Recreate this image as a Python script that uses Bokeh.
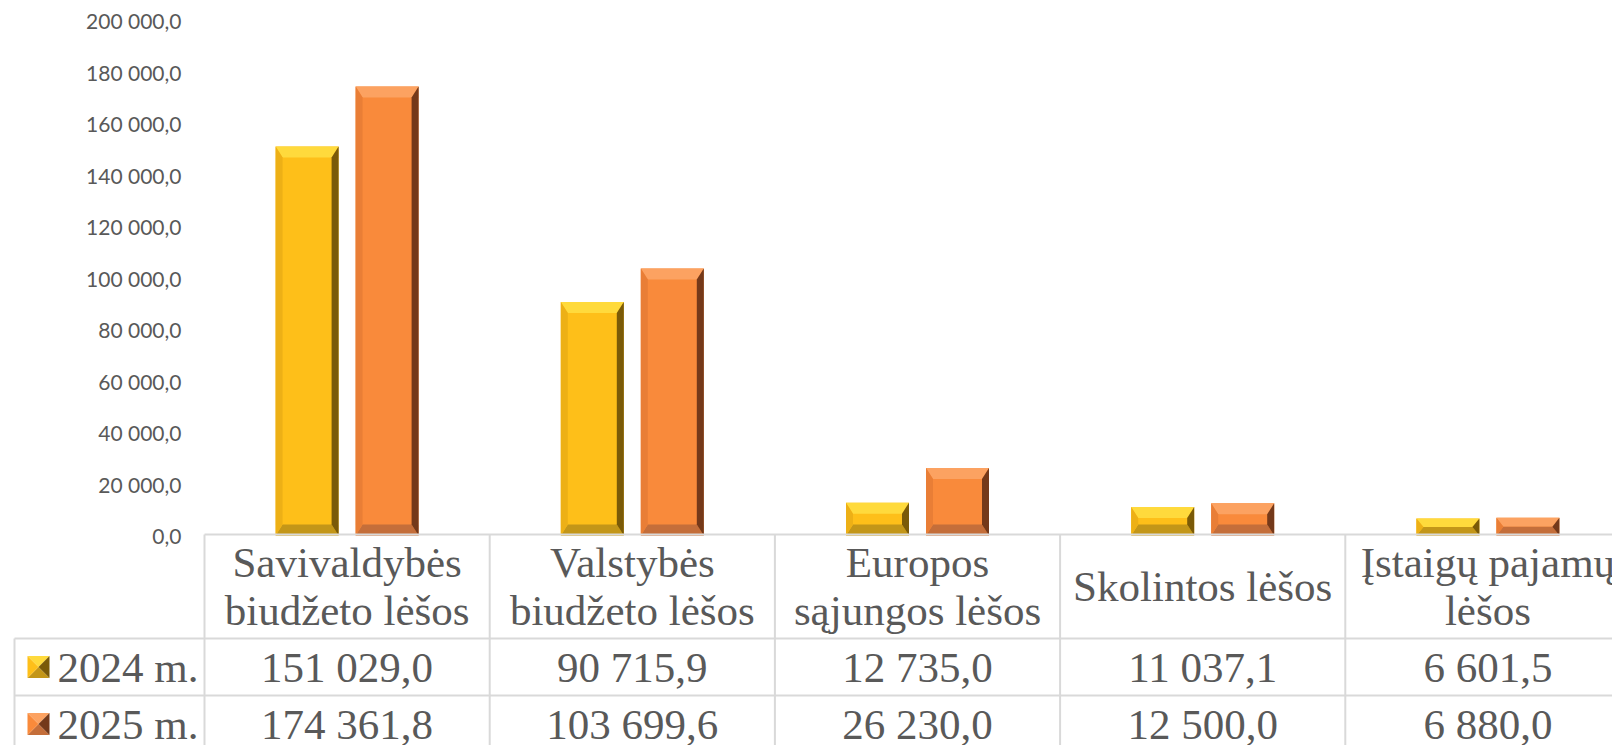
from bokeh.plotting import figure
from bokeh.models import Range1d, FixedTicker
from bokeh.embed import file_html
from bokeh.resources import INLINE
from bokeh.core.properties import value

# ---------------- data ----------------
categories = ["Savivaldybės\nbiudžeto lėšos", "Valstybės\nbiudžeto lėšos",
              "Europos\nsąjungos lėšos", "Skolintos lėšos", "Įstaigų pajamų\nlėšos"]
series_names = ["2024 m.", "2025 m."]
values_2024 = [151029.0, 90715.9, 12735.0, 11037.1, 6601.5]
values_2025 = [174361.8, 103699.6, 26230.0, 12500.0, 6880.0]
y_ticks = [0, 20000, 40000, 60000, 80000, 100000, 120000, 140000, 160000, 180000, 200000]
y_tick_labels = ["0,0", "20 000,0", "40 000,0", "60 000,0", "80 000,0", "100 000,0",
                 "120 000,0", "140 000,0", "160 000,0", "180 000,0", "200 000,0"]

# ---------------- style / layout ----------------
W, H = 1612, 745
CAT_PX = 285.2            # px per category
CAT0_FIG = 204            # fig x of category 0 left edge
ZERO_FIG = 535            # fig y of value 0
TOP_FIG = 20              # fig y of value 200000
UNIT_PER_PX = 200000 / (ZERO_FIG - TOP_FIG)
X0 = -CAT0_FIG / CAT_PX
X1 = (W - CAT0_FIG) / CAT_PX
Y1 = 200000 + TOP_FIG * UNIT_PER_PX
Y0 = -(H - ZERO_FIG) * UNIT_PER_PX

GRAY = "#595959"
LINE = "#D9D9D9"
colors = {
    "2024 m.": dict(main="#FEBF19", top="#FFDA3C", left="#EDB016", right="#7A5A08", bottom="#C39618"),
    "2025 m.": dict(main="#F98A3B", top="#FCA261", left="#E97E36", right="#74391A", bottom="#C46E3A"),
}

p = figure(width=W, height=H, output_backend="svg", toolbar_location=None,
           x_range=Range1d(X0, X1), y_range=Range1d(Y0, Y1),
           min_border=0, outline_line_color=None,
           background_fill_color="white", border_fill_color="white")
p.extra_x_ranges = {"px": Range1d(0, W)}
p.extra_y_ranges = {"px": Range1d(H, 0)}
p.xaxis.visible = False
p.grid.visible = False
p.yaxis.fixed_location = 0
p.yaxis.ticker = FixedTicker(ticks=y_ticks)
p.yaxis.major_label_overrides = {t: l for t, l in zip(y_ticks, y_tick_labels)}
p.yaxis.axis_line_color = None
p.yaxis.major_tick_line_color = None
p.yaxis.minor_tick_line_color = None
p.yaxis.major_tick_in = 0
p.yaxis.major_tick_out = 0
p.yaxis.major_label_standoff = 23
p.yaxis.major_label_text_font = "Lato"
p.yaxis.major_label_text_font_size = "21px"
p.yaxis.major_label_text_color = GRAY

# ---------------- bars with bevel ----------------
BAR_W = 63 / CAT_PX
OFFSET = 40 / CAT_PX
BEV_Y_PX = 11
BEV_X_PX = 7
for name, vals, off in [(series_names[0], values_2024, -OFFSET), (series_names[1], values_2025, OFFSET)]:
    c = colors[name]
    xs = [i + 0.5 + off for i in range(len(vals))]
    p.vbar(x=xs, top=vals, bottom=0, width=BAR_W, fill_color=c["main"], line_color=None)
    faces = {"top": ([], []), "bottom": ([], []), "left": ([], []), "right": ([], [])}
    for x, v in zip(xs, vals):
        L, R, T, B = x - BAR_W / 2, x + BAR_W / 2, v, 0.0
        bx = BEV_X_PX / CAT_PX
        by = min(BEV_Y_PX, (v / UNIT_PER_PX) / 2) * UNIT_PER_PX
        faces["top"][0].append([L, R, R - bx, L + bx]); faces["top"][1].append([T, T, T - by, T - by])
        faces["bottom"][0].append([L, R, R - bx, L + bx]); faces["bottom"][1].append([B, B, B + by, B + by])
        faces["left"][0].append([L, L, L + bx, L + bx]); faces["left"][1].append([B, T, T - by, B + by])
        faces["right"][0].append([R, R, R - bx, R - bx]); faces["right"][1].append([B, T, T - by, B + by])
    for face, (fx, fy) in faces.items():
        p.patches(xs=fx, ys=fy, fill_color=c[face], line_color=None)

# ---------------- data table ----------------
HDR_TOP, HDR_BOT, ROW1_BOT, TBL_LEFT, LBL_RIGHT = 534, 638, 695, 14, 204
row_y = [(HDR_BOT + ROW1_BOT) / 2, ROW1_BOT + (ROW1_BOT - HDR_BOT) / 2]
ncat = len(categories)
# horizontal lines
p.segment(x0=[LBL_RIGHT, TBL_LEFT, TBL_LEFT], y0=[HDR_TOP, HDR_BOT, ROW1_BOT],
          x1=[1700, 1700, 1700], y1=[HDR_TOP, HDR_BOT, ROW1_BOT],
          x_range_name="px", y_range_name="px", line_color=LINE, line_width=2)
# vertical lines
p.segment(x0=[TBL_LEFT], y0=[HDR_BOT], x1=[TBL_LEFT], y1=[800],
          x_range_name="px", y_range_name="px", line_color=LINE, line_width=2)
p.segment(x0=list(range(ncat + 1)), y0=[HDR_TOP] * (ncat + 1),
          x1=list(range(ncat + 1)), y1=[800] * (ncat + 1),
          y_range_name="px", line_color=LINE, line_width=2)

font = value("Liberation Serif")
FS = "43px"
p.text(x=[i + 0.5 for i in range(ncat)], y=[(HDR_TOP + HDR_BOT) / 2] * ncat, text=categories,
       y_range_name="px", text_align="center", text_baseline="middle",
       text_font=font, text_font_size=FS, text_color=GRAY, text_line_height=1.03)


def fmt(v):
    return f"{v:,.1f}".replace(",", " ").replace(".", ",")


for ry, vals in zip(row_y, [values_2024, values_2025]):
    p.text(x=[i + 0.5 for i in range(ncat)], y=[ry] * ncat, text=[fmt(v) for v in vals],
           y_range_name="px", text_align="center", text_baseline="middle",
           text_font=font, text_font_size=FS, text_color=GRAY)

p.text(x=[57] * 2, y=row_y, text=series_names, x_range_name="px", y_range_name="px",
       text_align="left", text_baseline="middle",
       text_font=font, text_font_size=FS, text_color=GRAY)

# legend keys (pyramid-bevelled squares)
KEY_CX, HALF = 38, 11
for name, ry in zip(series_names, row_y):
    c = colors[name]
    L, R, T, B = KEY_CX - HALF, KEY_CX + HALF, ry - HALF, ry + HALF
    cx, cy = KEY_CX, ry
    tri_x = [[L, R, cx], [L, R, cx], [L, L, cx], [R, R, cx]]
    tri_y = [[T, T, cy], [B, B, cy], [T, B, cy], [T, B, cy]]
    p.patches(xs=tri_x, ys=tri_y, fill_color=[c["top"], c["bottom"], c["main"], c["right"]],
              line_color=None, x_range_name="px", y_range_name="px")

open("out.html", "w").write(file_html(p, INLINE))
